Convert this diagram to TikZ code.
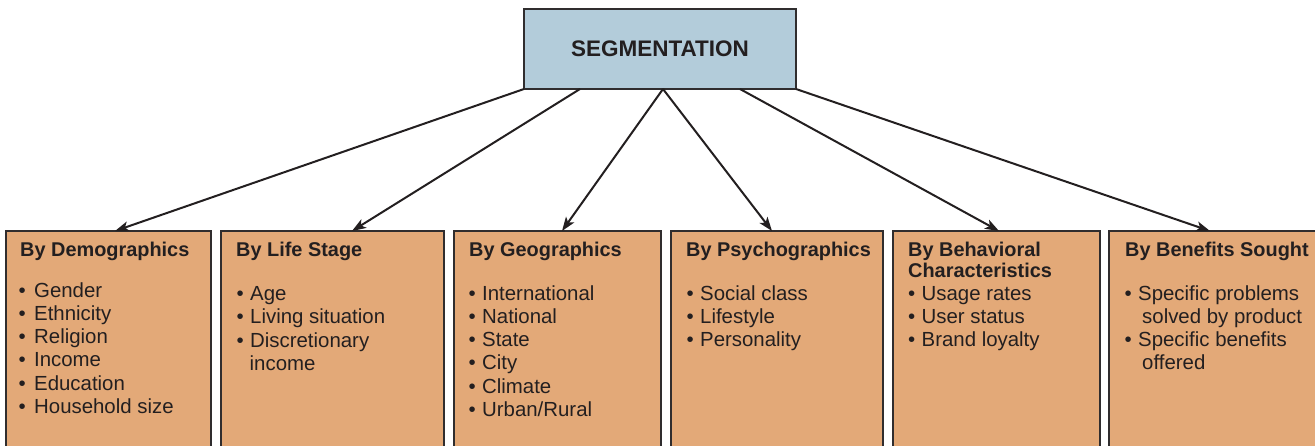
\documentclass[tikz,border=0pt]{standalone}
\usepackage{fontspec}
\setmainfont{Liberation Sans}
\usetikzlibrary{arrows.meta}
\definecolor{boxor}{RGB}{227,169,120}
\definecolor{topblue}{RGB}{179,204,218}
\definecolor{ink}{RGB}{35,31,32}
\definecolor{edgecol}{RGB}{48,45,46}
\newcommand\bul[1][13.5pt]{\makebox[#1][l]{\textbullet}}
\newcommand\cont[1][13.5pt]{\hspace*{#1}}
\begin{document}
\begin{tikzpicture}[x=1pt,y=-1pt,
  catbox/.style={draw=edgecol, line width=2pt, fill=boxor, anchor=north west,
    minimum height=240pt, inner sep=0pt, outer sep=0pt},
  ttl/.style={anchor=base west, inner sep=0pt,
    font=\fontsize{19.9}{21.6}\selectfont\bfseries, text=ink},
  items/.style={anchor=base west, inner sep=0pt,
    font=\fontsize{20.4}{23.3}\selectfont, text=ink},
  arr/.style={draw=ink, line width=2pt,
    -{Stealth[length=14pt,width=10pt,inset=3.5pt]}}
]
\useasboundingbox (0,0) rectangle (1315,445);
\begin{scope}
\clip (0,0) rectangle (1315,445);
\node[catbox, minimum width=205pt] (b1) at (6,231) {};
\node[catbox, minimum width=223pt] (b2) at (221,231) {};
\node[catbox, minimum width=207pt] (b3) at (454,231) {};
\node[catbox, minimum width=212pt] (b4) at (671,231) {};
\node[catbox, minimum width=207pt] (b5) at (893,231) {};
\node[catbox, minimum width=230pt] (b6) at (1109,231) {};
\end{scope}

\node[draw=edgecol, line width=2pt, fill=topblue, minimum width=272pt,
  minimum height=80pt, inner sep=0pt, outer sep=0pt,
  font=\fontsize{22.5}{26}\selectfont\bfseries, text=ink] (top) at (660,49) {SEGMENTATION};

% titles
\node[ttl] (t1) at (20,256) {By Demographics};
\node[ttl] (t2) at (236,256) {By Life Stage};
\node[ttl] (t3) at (469,256) {By Geographics};
\node[ttl] (t4) at (686,256) {By Psychographics};
\node[ttl] (t5) at (908,256) {\parbox[t]{190pt}{\raggedright By Behavioral\\Characteristics}};
\node[ttl] (t6) at (1125,256) {By Benefits Sought};

% items
\node[items] (i1) at (18.5,297) {\parbox[t]{190pt}{\raggedright
  \bul[15.5pt]Gender\\ \bul[15.5pt]Ethnicity\\ \bul[15.5pt]Religion\\
  \bul[15.5pt]Income\\ \bul[15.5pt]Education\\ \bul[15.5pt]Household size}};
\node[items] (i2) at (236.5,300.5) {\parbox[t]{200pt}{\raggedright
  \bul Age\\ \bul Living situation\\ \bul Discretionary\\ \cont[13pt]income}};
\node[items] (i3) at (468.5,300) {\parbox[t]{190pt}{\raggedright
  \bul International\\ \bul National\\ \bul State\\ \bul City\\ \bul Climate\\ \bul Urban/Rural}};
\node[items] (i4) at (686.5,300) {\parbox[t]{190pt}{\raggedright
  \bul Social class\\ \bul Lifestyle\\ \bul Personality}};
\node[items] (i5) at (908,300) {\parbox[t]{190pt}{\raggedright
  \bul Usage rates\\ \bul User status\\ \bul Brand loyalty}};
\node[items] (i6) at (1124.5,300) {\parbox[t]{190pt}{\raggedright
  \bul Specific problems\\ \cont[17.5pt]solved by product\\ \bul Specific benefits\\ \cont[17.5pt]offered}};

% connectors
\draw[arr] (top.south west) -- ([xshift=109pt]b1.north west);
\draw[arr] ([xshift=56pt]top.south west) -- ([xshift=131pt]b2.north west);
\draw[arr] ([xshift=3pt]top.south) -- ([xshift=108pt]b3.north west);
\draw[arr] ([xshift=3pt]top.south) -- ([xshift=101pt]b4.north west);
\draw[arr] ([xshift=216pt]top.south west) -- ([xshift=106pt]b5.north west);
\draw[arr] (top.south east) -- ([xshift=101pt]b6.north west);
\end{tikzpicture}
\end{document}
